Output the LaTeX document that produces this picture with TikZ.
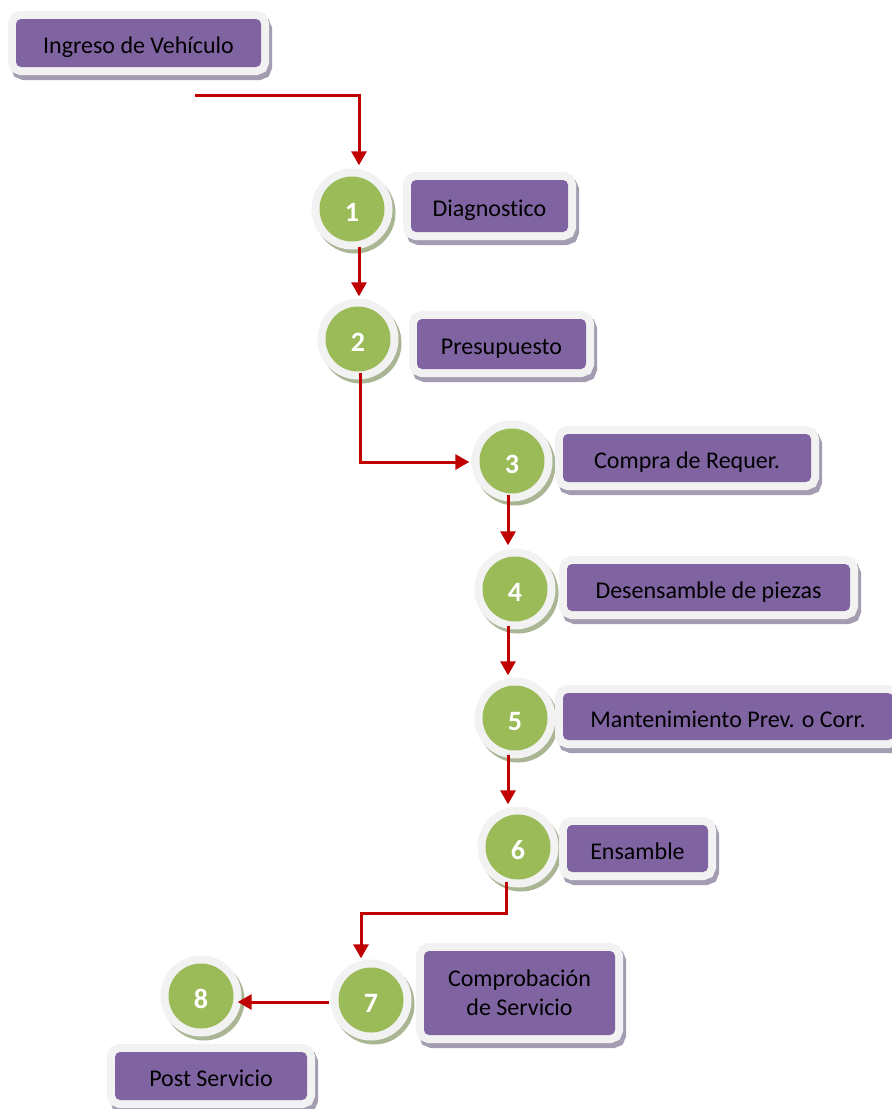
\documentclass[tikz,border=0pt]{standalone}
\usepackage{fontspec}
\setmainfont{Carlito}[Ligatures=NoCommon]
\usetikzlibrary{calc,arrows.meta}
\definecolor{purp}{HTML}{8064A2}
\definecolor{grn}{HTML}{9BBB59}
\definecolor{frm}{HTML}{F2F2F2}
\definecolor{bshd}{HTML}{A49DB2}
\definecolor{cshd}{HTML}{A9B593}
\definecolor{arw}{HTML}{C00000}
\begin{document}
\begin{tikzpicture}[x=1pt,y=1pt,
  stepbox/.style={rounded corners=5pt, fill=purp, inner sep=0pt, text=black, align=center,
    font=\fontsize{24}{29}\selectfont,
    preaction={draw=bshd, fill=bshd, line width=16pt, transform canvas={shift={(3pt,-5pt)}}},
    preaction={draw=frm, line width=16pt}},
  oneline/.style={text height=21pt, text depth=0pt},
  numc/.style={circle, fill=grn, inner sep=0pt, minimum size=65pt, text=white,
    font=\fontsize{28}{32}\bfseries\selectfont, text height=25pt, text depth=0pt,
    preaction={draw=cshd, fill=cshd, line width=16pt, transform canvas={shift={(3pt,-4pt)}}},
    preaction={draw=frm, line width=16pt}},
  arr/.style={draw=arw, line width=3pt, -{Triangle[width=15pt,length=14pt]}}]
\useasboundingbox (0,0) rectangle (892,-1109);
\fill[white] (0,0) rectangle (892,-1109);

\node[stepbox, oneline, minimum width=245pt, minimum height=48pt] (b0) at (138.5,-43) {Ingreso de Vehículo};
\node[numc] (c1) at (352,-209) {1};
\node[stepbox, oneline, minimum width=157pt, minimum height=52pt] (b1) at (489.5,-206) {Diagnostico};
\node[numc] (c2) at (358,-339) {2};
\node[stepbox, oneline, minimum width=169pt, minimum height=50pt] (b2) at (501.5,-344) {Presupuesto};
\node[numc] (c3) at (512,-461) {3};
\node[stepbox, oneline, minimum width=248pt, minimum height=48pt] (b3) at (687,-458) {Compra de Requer.};
\node[numc] (c4) at (515,-589) {4};
\node[stepbox, oneline, minimum width=283pt, minimum height=47pt] (b4) at (708.5,-587.5) {Desensamble de piezas};
\node[numc] (c5) at (515,-718) {5};
\node[stepbox, oneline, minimum width=330pt, minimum height=47pt] (b5) at (728,-716.5) {Mantenimiento Prev. o Corr.};
\node[numc] (c6) at (518,-847) {6};
\node[stepbox, oneline, minimum width=141pt, minimum height=47pt] (b6) at (637.5,-848.5) {Ensamble};
\node[numc] (c7) at (371,-1000) {7};
\node[stepbox, minimum width=191pt, minimum height=84pt] (b7) at (519.5,-993) {Comprobación\\de Servicio};
\node[numc] (c8) at (201,-996) {8};
\node[stepbox, oneline, minimum width=192pt, minimum height=48pt] (b8) at (211,-1076) {Post Servicio};

\coordinate (s0) at (195,-95);
\draw[arr] (s0) -| ($(c1.north)+(7,11)$);
\draw[arr] ($(c1.south)+(7,-5)$) -- ($(c2.north)+(1,10)$);
\draw[arr] ($(c2.south)+(2,-1)$) |- ($(c3.west)+(-10,-1)$);
\draw[arr] ($(c3.south)+(-4,-1)$) -- ($(c4.north)+(-7,11)$);
\draw[arr] ($(c4.south)+(-7,-4)$) -- ($(c5.north)+(-7,10)$);
\draw[arr] ($(c5.south)+(-7,-4)$) -- ($(c6.north)+(-10,10)$);
\draw[arr] ($(c6.south)+(-12,-2)$) -- ($(c6.south)+(-12,-34)$) -| ($(c7.north)+(-10,9)$);
\draw[arr] ($(c7.west)+(-9,-2)$) -- ($(c8.east)+(4,-6)$);
\end{tikzpicture}
\end{document}
